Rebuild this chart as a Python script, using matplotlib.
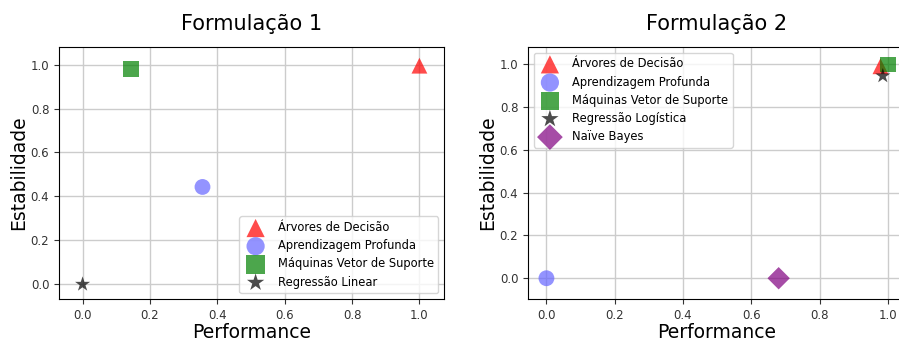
import matplotlib
matplotlib.use("Agg")
import matplotlib.pyplot as plt

# Formulação 1
f1_names = ["Árvores de Decisão", "Aprendizagem Profunda", "Máquinas Vetor de Suporte", "Regressão Linear"]
f1_perf = [1.0, 0.356, 0.143, 0.0]
f1_stab = [0.995, 0.443, 0.98, 0.0]

# Formulação 2
f2_names = ["Árvores de Decisão", "Aprendizagem Profunda", "Máquinas Vetor de Suporte", "Regressão Logística", "Naïve Bayes"]
f2_perf = [0.978, 0.0, 1.0, 0.985, 0.68]
f2_stab = [0.99, 0.0, 0.998, 0.945, 0.0]

markers = ["^", "o", "s", "*", "D"]
colors = ["red", "#6666ff", "green", "black", "purple"]
sizes = [130, 130, 130, 130, 130]

ticks = [0.0, 0.2, 0.4, 0.6, 0.8, 1.0]

fig = plt.figure(figsize=(8.99, 3.38), dpi=100)
W, H = 899, 338
ax1 = fig.add_axes([59 / W, 1 - 299 / H, 385 / W, 252 / H])
ax2 = fig.add_axes([528 / W, 1 - 299 / H, 377 / W, 252 / H])

def draw(ax, names, xs, ys, title, loc, xlim, ylim):
    for i, (n, x, y) in enumerate(zip(names, xs, ys)):
        ax.scatter([x], [y], marker=markers[i], c=colors[i], s=sizes[i], alpha=0.7,
                   label=n, zorder=3, edgecolors="none")
    ax.set_xlim(*xlim)
    ax.set_ylim(*ylim)
    ax.set_xticks(ticks)
    ax.set_yticks(ticks)
    ax.tick_params(labelsize=8.5, colors="#333333")
    ax.grid(True, color="#cccccc", linewidth=1)
    ax.set_axisbelow(True)
    ax.set_title(title, fontsize=15, pad=12)
    ax.set_xlabel("Performance", fontsize=13.5, labelpad=1)
    ax.set_ylabel("Estabilidade", fontsize=13.5, labelpad=2)
    ax.legend(loc=loc, fontsize=8.3, handletextpad=0.9, labelspacing=0.45, borderpad=0.4,
              scatterpoints=1, markerscale=1.15)

draw(ax1, f1_names, f1_perf, f1_stab, "Formulação 1", "lower right", (-0.07, 1.073), (-0.067, 1.08))
draw(ax2, f2_names, f2_perf, f2_stab, "Formulação 2", "upper left", (-0.054, 1.05), (-0.097, 1.08))

fig.savefig("out.png", dpi=100)
